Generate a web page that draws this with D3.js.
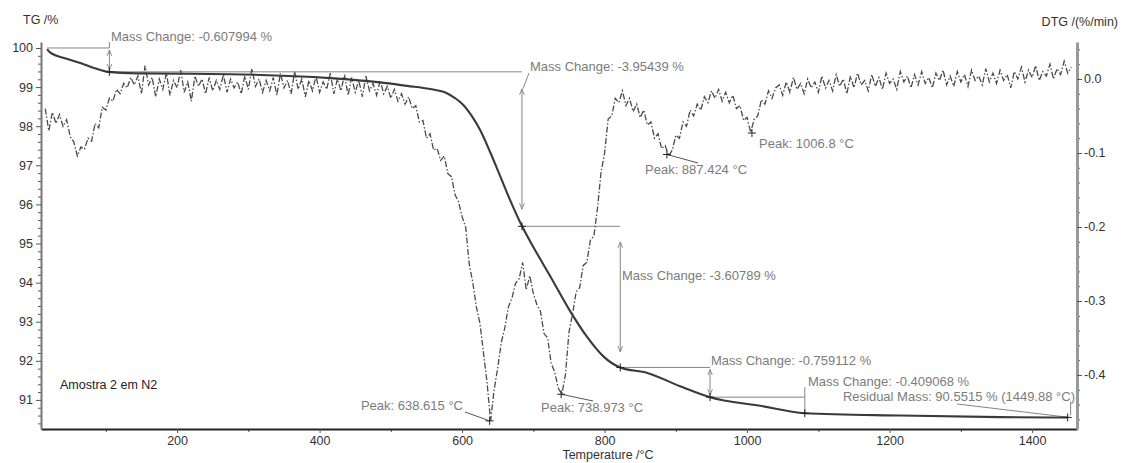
<!DOCTYPE html>
<html>
<head>
<meta charset="utf-8">
<script src="https://cdn.jsdelivr.net/npm/d3@7"></script>
<style>
  body { margin: 0; background: #fff; }
  svg text { font-family: "Liberation Sans", Arial, sans-serif; }
</style>
</head>
<body>
<svg id="chart" width="1122" height="463"></svg>
<script>
// TG curve, mass in %
const tgTemp = [17.5, 22, 42.4, 65.3, 84.5, 103, 145, 274, 415, 485, 523, 555, 578, 590, 601.4, 614, 625.3, 639.3, 653.3, 667.4, 684.2, 702.5, 723.5, 751.6, 775.4, 797.9, 821.8, 860, 906, 948, 1018, 1081, 1215, 1355, 1450];
const tgMass = [99.97, 99.88, 99.74, 99.61, 99.48, 99.39, 99.35, 99.33, 99.23, 99.12, 99.03, 98.95, 98.85, 98.72, 98.55, 98.25, 97.9, 97.34, 96.73, 96.11, 95.44, 94.83, 94.17, 93.27, 92.61, 92.12, 91.83, 91.69, 91.35, 91.07, 90.85, 90.66, 90.6, 90.56, 90.55];

// DTG curve in %/min, one value every 5 °C from 15 °C
const dtgStart = 15, dtgStep = 5;
const dtgValues = [
  -0.040, -0.070, -0.045, -0.060, -0.048, -0.064, -0.055, -0.078, -0.085, -0.104,
  -0.092, -0.095, -0.080, -0.084, -0.060, -0.066, -0.038, -0.042, -0.026, -0.030,
  -0.014, -0.020, -0.006, -0.012, 0.002, -0.008,
  0.004, -0.020, 0.018, -0.008, 0.002, -0.024, 0.000, -0.014, 0.008, -0.022,
  -0.002, -0.012, 0.012, -0.018, -0.004, -0.030, 0.004, -0.010, 0.000, -0.020,
  0.002, -0.016, -0.002, -0.014, 0.006, -0.018, 0.000, -0.012, -0.004, -0.020,
  0.004, -0.014, 0.014, -0.010, 0.000, -0.018, -0.002, -0.016, 0.002, -0.022,
  0.008, -0.012, -0.002, -0.020, 0.010, -0.014, 0.000, -0.024, -0.002, -0.016,
  0.004, -0.018, -0.004, -0.014, 0.008, -0.020, 0.000, -0.016, 0.006, -0.022,
  0.002, -0.018, -0.002, -0.024, 0.004, -0.016, -0.006, -0.022, -0.002, -0.020,
  -0.010, -0.026, -0.014, -0.030, -0.020, -0.034,
  -0.024, -0.040, -0.036, -0.058, -0.056, -0.080, -0.074, -0.096, -0.094, -0.110,
  -0.104, -0.128, -0.132, -0.156, -0.166, -0.186, -0.200, -0.250, -0.275, -0.308,
  -0.330, -0.370, -0.410, -0.462, -0.420, -0.390, -0.356, -0.336, -0.308, -0.296,
  -0.276, -0.270, -0.248, -0.285, -0.266, -0.290, -0.305, -0.314, -0.344, -0.350,
  -0.384, -0.396, -0.418, -0.426, -0.400, -0.342, -0.318, -0.288, -0.282, -0.252,
  -0.248, -0.218, -0.212, -0.175, -0.126, -0.100, -0.054, -0.050, -0.026, -0.032,
  -0.016, -0.036, -0.026, -0.044, -0.034, -0.052, -0.042, -0.062, -0.058, -0.080,
  -0.074, -0.094, -0.090, -0.104, -0.096, -0.076, -0.080, -0.058, -0.064, -0.042,
  -0.050, -0.034, -0.042, -0.024, -0.032, -0.016, -0.026, -0.014, -0.030, -0.018,
  -0.032, -0.022, -0.040, -0.036, -0.056, -0.052, -0.072, -0.054, -0.050, -0.028,
  -0.034, -0.016, -0.026, -0.012,
  -0.008, -0.022, -0.004, -0.018, 0.002, -0.014, -0.006, -0.020, 0.000, -0.012,
  -0.004, -0.018, 0.004, -0.012, -0.002, -0.016, 0.006, -0.010, 0.000, -0.020,
  0.004, -0.012, 0.008, -0.008, -0.002, -0.016, 0.006, -0.010, 0.002, -0.014,
  0.008, -0.006, 0.000, -0.014, 0.010, -0.004, 0.004, -0.012, 0.006, -0.008,
  0.010, -0.006, 0.002, -0.012, 0.008, -0.002, 0.012, -0.008, 0.004, -0.010,
  0.010, -0.004, 0.006, -0.010, 0.012, -0.002, 0.004, -0.008, 0.014, -0.004,
  0.008, -0.006, 0.012, -0.002, 0.006, -0.012, 0.010, 0.000, 0.016, -0.004,
  0.012, 0.002, 0.018, -0.002, 0.010, 0.004, 0.020, 0.000, 0.014, 0.006,
  0.024, 0.008, 0.016
];

// mass change steps (temperature, TG level)
const stepTemp = [17.5, 105, 684, 822, 948, 1081];
const stepMass = [100, 99.39, 95.44, 91.83, 91.07, 90.66];
const stepLabels = ["Mass Change: -0.607994 %", "Mass Change: -3.95439 %", "Mass Change: -3.60789 %", "Mass Change: -0.759112 %", "Mass Change: -0.409068 %"];

// DTG peaks
const peakTemp = [638.615, 738.973, 887.424, 1006.8];
const peakDtg = [-0.462, -0.426, -0.102, -0.073];
const peakLabels = ["Peak: 638.615 °C", "Peak: 738.973 °C", "Peak: 887.424 °C", "Peak: 1006.8 °C"];

const residualTemp = 1449.88, residualMass = 90.5515;
const residualLabel = "Residual Mass: 90.5515 % (1449.88 °C)";

// ticks
const xTicks = [200, 400, 600, 800, 1000, 1200, 1400];
const xMinor = [100, 300, 500, 700, 900, 1100, 1300];
const tgTicks = [91, 92, 93, 94, 95, 96, 97, 98, 99, 100];
const dtgTicks = [0, -0.1, -0.2, -0.3, -0.4];

const svg = d3.select("#chart");
const x = d3.scaleLinear().domain([9, 1463]).range([41, 1077]);
const yTG = d3.scaleLinear().domain([90.256, 100.153]).range([429, 42]);
const yDTG = d3.scaleLinear().domain([-0.473, 0.05]).range([429, 42]);

const annoColor = "#858585";
const textColor = "#7c7c7c";

const defs = svg.append("defs");
defs.append("marker")
  .attr("id", "arrow")
  .attr("viewBox", "0 0 8 8")
  .attr("refX", 8).attr("refY", 4)
  .attr("markerWidth", 6).attr("markerHeight", 6)
  .attr("markerUnits", "userSpaceOnUse")
  .attr("orient", "auto-start-reverse")
  .append("path")
  .attr("d", "M0,0.8 L8,4 L0,7.2")
  .attr("fill", "none")
  .attr("stroke", annoColor)
  .attr("stroke-width", 1.2);
defs.append("clipPath").attr("id", "plot")
  .append("rect").attr("x", 41).attr("y", 38).attr("width", 1036).attr("height", 391);

// axes
const minorX = svg.append("g").attr("transform", "translate(0,429)")
  .call(d3.axisBottom(x).tickValues(xMinor).tickSize(3).tickFormat(""));
const axX = svg.append("g").attr("transform", "translate(0,429)")
  .call(d3.axisBottom(x).tickValues(xTicks).tickSize(4).tickSizeOuter(0).tickFormat(d => d));

const tgMinor = d3.range(90.4, 100.1, 0.2).filter(v => Math.abs(v - Math.round(v)) > 0.01);
const minorL = svg.append("g").attr("transform", "translate(41,0)")
  .call(d3.axisLeft(yTG).tickValues(tgMinor).tickSize(3).tickFormat(""));
const axL = svg.append("g").attr("transform", "translate(41,0)")
  .call(d3.axisLeft(yTG).tickValues(tgTicks).tickSize(5).tickSizeOuter(0).tickFormat(d => d));

const dtgMinor = d3.range(-0.46, 0.045, 0.02).filter(v => Math.abs(v * 10 - Math.round(v * 10)) > 0.01);
const minorR = svg.append("g").attr("transform", "translate(1077,0)")
  .call(d3.axisRight(yDTG).tickValues(dtgMinor).tickSize(3).tickFormat(""));
const axR = svg.append("g").attr("transform", "translate(1077,0)")
  .call(d3.axisRight(yDTG).tickValues(dtgTicks).tickSize(5).tickPadding(2).tickSizeOuter(0).tickFormat(d => d.toFixed(1)));

svg.selectAll(".tick line").attr("stroke", "#555");
svg.selectAll(".tick text").attr("fill", "#333").style("font-size", "12.5px");
axX.select(".domain").attr("stroke", "#222").attr("stroke-width", 2);
minorX.select(".domain").remove();
minorL.select(".domain").remove();
minorR.select(".domain").remove();
axL.select(".domain").attr("stroke", "#777").attr("stroke-width", 2);
axR.select(".domain").attr("stroke", "#9a9a9a").attr("stroke-width", 3);

// axis titles
svg.append("text").attr("x", 23).attr("y", 24).attr("fill", "#333").style("font-size", "12.5px").text("TG /%");
svg.append("text").attr("x", 1118).attr("y", 26).attr("text-anchor", "end").attr("fill", "#333").style("font-size", "12.5px").text("DTG /(%/min)");
svg.append("text").attr("x", 608).attr("y", 459).attr("text-anchor", "middle").attr("fill", "#333").style("font-size", "12.5px").text("Temperature /°C");
svg.append("text").attr("x", 60).attr("y", 389).attr("fill", "#222").style("font-size", "12.5px").text("Amostra 2 em N2");

// mass change annotations
const anno = svg.append("g");
const stepText = [[111, 41], [530, 71], [622, 280], [711, 365], [808, 386]];
for (let i = 0; i < stepLabels.length; i++) {
  const x0 = x(stepTemp[i]), x1 = x(stepTemp[i + 1]);
  const ya = yTG(stepMass[i]), yb = yTG(stepMass[i + 1]);
  anno.append("line").attr("x1", x0).attr("x2", x1).attr("y1", ya).attr("y2", ya)
    .attr("stroke", annoColor).attr("stroke-width", 1);
  const span = yb - ya;
  if (span < 20) {
    anno.append("line").attr("x1", x1).attr("x2", x1).attr("y1", ya - 10).attr("y2", yb)
      .attr("stroke", annoColor).attr("stroke-width", 1);
  } else {
    const pad = span > 60 ? span * 0.11 : 2;
    anno.append("line").attr("x1", x1).attr("x2", x1).attr("y1", ya + pad).attr("y2", yb - pad)
      .attr("stroke", annoColor).attr("stroke-width", 1)
      .attr("marker-start", "url(#arrow)").attr("marker-end", "url(#arrow)");
    if (i === 0) {
      anno.append("line").attr("x1", x1).attr("x2", x1).attr("y1", ya - 6).attr("y2", ya)
        .attr("stroke", annoColor).attr("stroke-width", 1);
    }
    if (i === 1) {
      // leader from the label to the arrow
      anno.append("line").attr("x1", stepText[i][0] - 1).attr("y1", stepText[i][1] + 2)
        .attr("x2", x1 + 1).attr("y2", ya + pad)
        .attr("stroke", annoColor).attr("stroke-width", 1);
    }
  }
  anno.append("text").attr("x", stepText[i][0]).attr("y", stepText[i][1])
    .attr("fill", textColor).style("font-size", "13px").text(stepLabels[i]);
}

// peak labels
const peakText = [[463, 410, "end"], [541, 412, "start"], [645, 174, "start"], [759, 148, "start"]];
const peakLeader = [[465, 412], [593, 401], [698, 163], null];
peakTemp.forEach((t, i) => {
  if (peakLeader[i]) {
    anno.append("line").attr("x1", x(t)).attr("y1", yDTG(peakDtg[i]))
      .attr("x2", peakLeader[i][0]).attr("y2", peakLeader[i][1])
      .attr("stroke", "#555").attr("stroke-width", 1);
  }
  anno.append("text").attr("x", peakText[i][0]).attr("y", peakText[i][1])
    .attr("text-anchor", peakText[i][2])
    .attr("fill", textColor).style("font-size", "13px").text(peakLabels[i]);
});

// residual mass
anno.append("line").attr("x1", 957).attr("y1", 404)
  .attr("x2", x(residualTemp) + 2).attr("y2", yTG(residualMass))
  .attr("stroke", annoColor).attr("stroke-width", 1);
anno.append("line").attr("x1", x(residualTemp) + 3).attr("x2", x(residualTemp) + 3)
  .attr("y1", yTG(residualMass) - 16).attr("y2", yTG(residualMass) - 2)
  .attr("stroke", annoColor).attr("stroke-width", 1);
anno.append("text").attr("x", 1075).attr("y", 401).attr("text-anchor", "end")
  .attr("fill", textColor).style("font-size", "13px").text(residualLabel);

// DTG curve
const dtgData = dtgValues.map((v, i) => [dtgStart + i * dtgStep, v]);
svg.append("path")
  .datum(dtgData)
  .attr("clip-path", "url(#plot)")
  .attr("fill", "none")
  .attr("stroke", "#4a4a4a")
  .attr("stroke-width", 1.3)
  .attr("stroke-dasharray", "6,2,1.5,2")
  .attr("d", d3.line().x(d => x(d[0])).y(d => yDTG(d[1])));

// TG curve
const tgData = tgTemp.map((t, i) => [t, tgMass[i]]);
svg.append("path")
  .datum(tgData)
  .attr("fill", "none")
  .attr("stroke", "#3a3a3a")
  .attr("stroke-width", 2.1)
  .attr("d", d3.line().curve(d3.curveMonotoneX).x(d => x(d[0])).y(d => yTG(d[1])));

// little + markers
function cross(px, py) {
  svg.append("path").attr("d", `M${px - 4},${py}h8M${px},${py - 4}v8`)
    .attr("stroke", "#222").attr("stroke-width", 1);
}
for (let i = 1; i < stepTemp.length; i++) cross(x(stepTemp[i]), yTG(stepMass[i]));
peakTemp.forEach((t, i) => cross(x(t), yDTG(peakDtg[i])));
cross(x(residualTemp), yTG(residualMass));
</script>
</body>
</html>
